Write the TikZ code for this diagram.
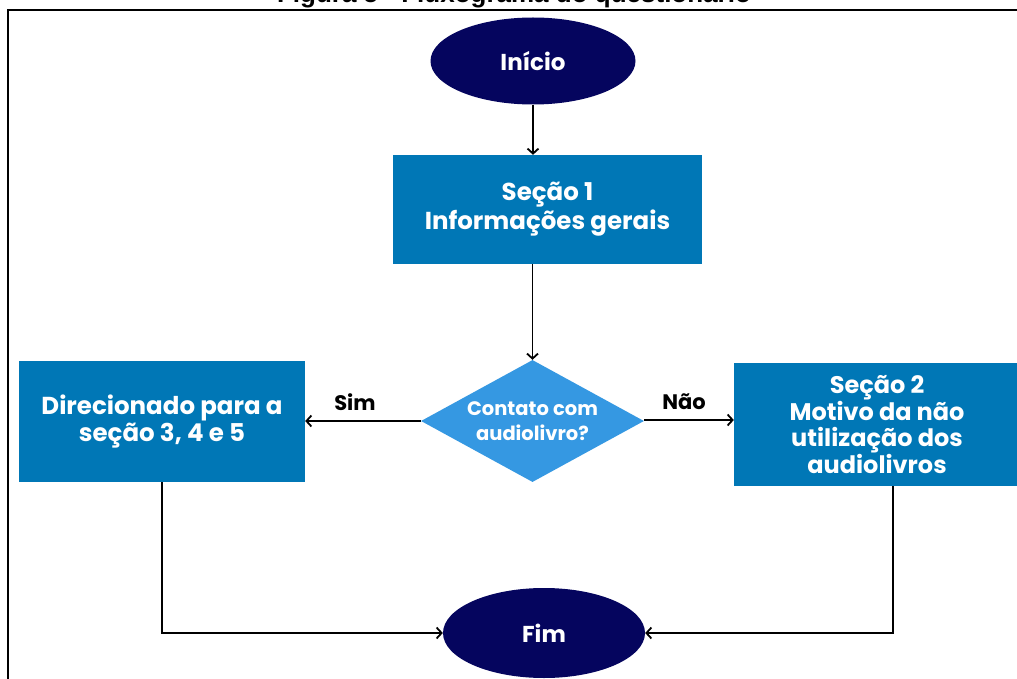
\documentclass[tikz,border=0pt]{standalone}
\usepackage{fontspec}
\setmainfont{Liberation Sans}
\newfontfamily\pop{Poppins}
\usetikzlibrary{arrows.meta,shapes.geometric,calc}
\definecolor{navy}{HTML}{05055E}
\definecolor{boxblue}{HTML}{0077B6}
\definecolor{diablue}{HTML}{3598E2}
\begin{document}
\begin{tikzpicture}[x=1pt,y=-1pt,
  term/.style={ellipse, fill=navy, text=white, inner sep=0pt, font=\pop\bfseries\fontsize{23}{28}\selectfont},
  sbox/.style={rectangle, fill=boxblue, text=white, inner sep=0pt, align=center},
  dia/.style={diamond, shape aspect=1.83, fill=diablue, text=white, inner sep=0pt, align=center, font=\pop\bfseries\fontsize{19.5}{25}\selectfont},
  arr/.style={line width=1.8pt, -{Straight Barb[length=5pt,width=11pt,line width=1.8pt]}},
  lbl/.style={font=\pop\bfseries\fontsize{21}{24}\selectfont, text=black}
]
\useasboundingbox (0,0) rectangle (1017,679);
\fill[white] (0,0) rectangle (1017,679);
% title (cut off at top)
\node[anchor=base, font=\bfseries\fontsize{26}{30}\selectfont, inner sep=0pt] (title) at (514,3) {Figura 5 - Fluxograma do questionário};
% frame
\draw[line width=2.5pt] (8,690) -- (8,10) -- (1030,10);
% nodes
\node[term, minimum width=205pt, minimum height=87pt] (start) at (533,61) {Início};
\node[sbox, minimum width=309pt, minimum height=109pt, font=\pop\bfseries\fontsize{24.5}{29}\selectfont] (s1) at (547.5,209.5) {Seção 1\\Informações gerais};
\node[dia, minimum width=223pt, minimum height=122pt] (d) at (532.5,421) {Contato com\\audiolivro?};
\node[sbox, minimum width=286pt, minimum height=121pt, font=\pop\bfseries\fontsize{24.5}{27}\selectfont] (left) at (162,421.5) {Direcionado para a\\seção 3, 4 e 5};
\node[sbox, minimum width=286pt, minimum height=123pt, font=\pop\bfseries\fontsize{24}{25.7}\selectfont] (right) at (877,424.5) {Seção 2\\Motivo da não\\utilização dos\\audiolivros};
\node[term, minimum width=202pt, minimum height=90pt] (fim) at (544,633) {Fim};
% labels
\node[lbl] (sim) at (355,402) {Sim};
\node[lbl] (nao) at (684,402) {Não};
% connectors
\draw[arr] (start.south) -- (start.south |- s1.north);
\draw[arr] (s1.south -| d.north) -- (d.north);
\draw[arr] (d.west) -- (d.west -| left.east);
\draw[arr] ($(d.east)+(0,-1)$) -- ($(d.east -| right.west)+(0,-1)$);
\draw[arr] (left.south) |- (fim.west);
\coordinate (rdown) at ($(right.south)+(16,0)$);
\draw[arr] (rdown) |- (fim.east);
\end{tikzpicture}
\end{document}
